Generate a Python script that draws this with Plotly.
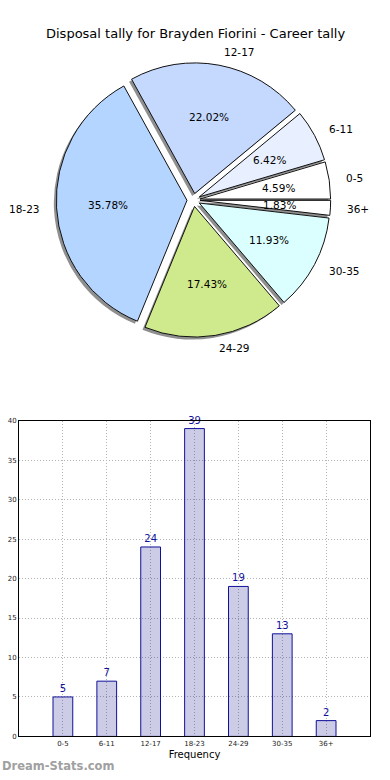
import math
import plotly.graph_objects as go

# ---- data ----
categories = ["0-5", "6-11", "12-17", "18-23", "24-29", "30-35", "36+"]
counts = [5, 7, 24, 39, 19, 13, 2]
slice_colors = ["#ffffff", "#e8f0ff", "#c5d9ff", "#b4d5ff", "#cfea8c", "#dbffff", "#ffffff"]
title_text = "Disposal tally for Brayden Fiorini - Career tally"
y_ticks = [0, 5, 10, 15, 20, 25, 30, 35, 40]

W, H = 390, 780
FONT = "DejaVu Sans"

# ---- pie geometry (pixels) ----
pull = 0.05
r = 132.0
cx, cy = 193.5, 198.0
half = r * (1 + pull)
pie_dom_x = [(cx - half) / W, (cx + half) / W]
pie_dom_y = [(H - cy - half) / H, (H - cy + half) / H]
sh = 2.5  # shadow offset px
shadow_dom_x = [pie_dom_x[0] - sh / W, pie_dom_x[1] - sh / W]
shadow_dom_y = [pie_dom_y[0] - sh / H, pie_dom_y[1] - sh / H]

total = sum(counts)
# plotly (counterclockwise) places the first slice clockwise of `rotation`;
# shift so the first slice starts at 3 o'clock and runs counterclockwise
rotation = 90 - 360.0 * counts[0] / total

fig = go.Figure()

common = dict(labels=categories, values=counts, sort=False, direction="counterclockwise",
              rotation=rotation, pull=pull, textinfo="none", hoverinfo="label+value+percent",
              showlegend=False)

fig.add_trace(go.Pie(domain=dict(x=shadow_dom_x, y=shadow_dom_y),
                     marker=dict(colors=["#8f8f8f"] * len(counts), line=dict(width=0)),
                     **common))
fig.add_trace(go.Pie(domain=dict(x=pie_dom_x, y=pie_dom_y),
                     marker=dict(colors=slice_colors, line=dict(color="#111111", width=1)),
                     **common))

# ---- pie labels (positioned from the data's angles) ----
annotations = []
start = 0.0
for cat, v in zip(categories, counts):
    frac = v / total
    mid = (start + frac / 2) * 2 * math.pi
    start += frac
    c, s = math.cos(mid), math.sin(mid)
    d = (0.6 + pull) * r
    annotations.append(dict(x=(cx + d * c) / W, y=(H - (cy - d * s)) / H, xref="paper", yref="paper",
                            text=f"{frac * 100:.2f}%", showarrow=False, xanchor="center", yanchor="middle",
                            font=dict(family=FONT, size=10.5, color="#000000")))
    d = (1.1 + pull) * r
    annotations.append(dict(x=(cx + d * c) / W, y=(H - (cy - d * s)) / H, xref="paper", yref="paper",
                            text=cat, showarrow=False, xanchor="left" if c > 0 else "right",
                            yanchor="middle", font=dict(family=FONT, size=10.5, color="#000000")))

annotations.append(dict(x=0.5, y=(H - 30) / H, xref="paper", yref="paper", text=title_text,
                        showarrow=False, xanchor="center", yanchor="middle",
                        font=dict(family=FONT, size=13, color="#000000")))
annotations.append(dict(x=0.0, y=(H - 770) / H, xref="paper", yref="paper", text="<b>Dream-Stats.com</b>",
                        showarrow=False, xanchor="left", yanchor="middle",
                        font=dict(family=FONT, size=11.5, color="#a0a0a0")))

# ---- bar chart ----
fig.add_trace(go.Bar(x=categories, y=counts, text=[str(v) for v in counts], textposition="outside",
                     textfont=dict(family=FONT, size=10, color="#10109a"), cliponaxis=False,
                     width=0.45, marker=dict(color="rgba(0,0,128,0.2)", line=dict(color="#10109a", width=1)),
                     showlegend=False, xaxis="x", yaxis="y"))

grid = dict(showgrid=True, gridcolor="#b4b4b4", griddash="1px,2px", gridwidth=1)

fig.update_layout(
    width=W, height=H,
    margin=dict(l=0, r=0, t=0, b=0),
    paper_bgcolor="white", plot_bgcolor="white",
    annotations=annotations,
    xaxis=dict(domain=[19 / W, 370 / W], type="category", range=[-1, 7], **grid,
               showline=True, linecolor="#000000", linewidth=1, mirror=True,
               ticks="", tickfont=dict(family=FONT, size=7, color="#222222"),
               title=dict(text="Frequency", font=dict(family=FONT, size=10, color="#000000"), standoff=4),
               anchor="y", fixedrange=True),
    yaxis=dict(domain=[(H - 740) / H, (H - 421) / H], range=[0, 40], tickvals=y_ticks, **grid,
               showline=True, linecolor="#000000", linewidth=1, mirror=True, zeroline=False,
               ticks="", tickfont=dict(family=FONT, size=7, color="#222222"),
               anchor="x", fixedrange=True),
)

fig.write_html("out.html", config={"displayModeBar": False},
               post_script="document.body.style.margin='0';document.body.style.overflow='hidden';")
